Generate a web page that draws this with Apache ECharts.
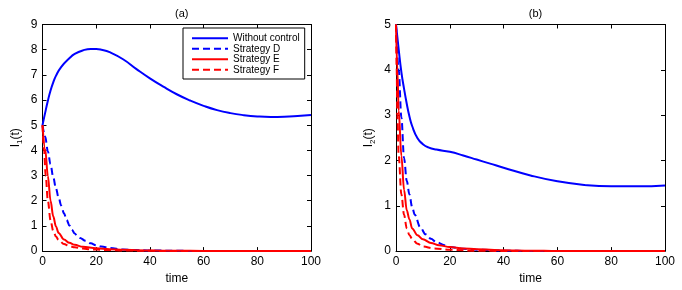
<!DOCTYPE html>
<html>
<head>
<meta charset="utf-8">
<script src="https://cdn.jsdelivr.net/npm/echarts@6/dist/echarts.min.js"></script>
<style>html,body{margin:0;padding:0;background:#fff;}#c{width:682px;height:290px;}</style>
</head>
<body>
<div id="c"></div>
<script>
// ---- Data (a): I1(t) ----
const tA_none = [0,1,2,3,4,5,7,10,12,15,18,20,22,25,30,35,40,45,50,55,60,65,70,75,80,85,90,95,100];
const yA_none = [5,5.5,5.97,6.38,6.7,6.96,7.32,7.66,7.83,7.97,8.03,8.03,8.0,7.9,7.62,7.23,6.86,6.53,6.23,5.98,5.77,5.6,5.48,5.4,5.35,5.33,5.34,5.37,5.41];
const tA_D = [0,1,2,3,4,5,6,7,8,9,10,11,12,13,14,16,18,20,22,25,30,35,40,50,60,70,100];
const yA_D = [5,4.55,3.96,3.45,2.93,2.5,2.12,1.8,1.5,1.24,1.02,0.84,0.7,0.6,0.52,0.41,0.31,0.23,0.18,0.12,0.065,0.04,0.025,0.01,0.005,0,0];
const tA_E = [0,1,2,3,4,5,6,8,10,12,15,20,25,30,40,50,60,70,100];
const yA_E = [5,4.05,2.98,2.0,1.38,0.98,0.72,0.46,0.33,0.25,0.17,0.11,0.075,0.05,0.025,0.012,0.006,0.003,0];
const tA_F = [0,0.6,1.2,2,3,4,5,6,8,10,12,15,18,20,25,30,40,50,60,100];
const yA_F = [5,3.96,2.98,2.0,1.22,0.8,0.58,0.44,0.28,0.2,0.15,0.1,0.07,0.06,0.04,0.025,0.01,0.004,0,0];
// ---- Data (b): I2(t) ----
const tB_none = [0,1,2,3,4,5,6,8,10,12,15,20,25,30,35,40,50,60,70,80,90,100];
const yB_none = [5,4.45,3.95,3.58,3.25,2.97,2.76,2.49,2.36,2.29,2.24,2.19,2.11,2.02,1.93,1.84,1.67,1.54,1.46,1.43,1.43,1.45];
const tB_D = [0,1,2,3,4,5,6,7,9,11,13,15,18,20,25,30,40,50,60,100];
const yB_D = [5,4.0,2.95,2.05,1.55,1.25,0.97,0.8,0.53,0.37,0.27,0.2,0.13,0.09,0.05,0.03,0.01,0.003,0,0];
const tB_E = [0,0.5,1,2,3,4,5,6,8,10,13,16,20,25,30,40,50,60,100];
const yB_E = [5,4.0,3.1,2.1,1.35,0.9,0.7,0.5,0.35,0.26,0.18,0.13,0.09,0.06,0.04,0.02,0.01,0,0];
const tB_F = [0,0.25,0.5,1,2,3,4,5,6,8,10,14,20,30,40,100];
const yB_F = [5,4.0,3.0,2.1,1.25,0.8,0.5,0.35,0.27,0.16,0.1,0.06,0.03,0.01,0,0];

const seriesNames = ['Without control','Strategy D','Strategy E','Strategy F'];

const FONT = "'Liberation Sans', Arial, sans-serif";
const BLUE = '#0000ff', RED = '#ff0000';
const styles = [
  {color: BLUE, type: 'solid'},
  {color: BLUE, type: [7,4]},
  {color: RED, type: 'solid'},
  {color: RED, type: [7,4]}
];

function pairs(t, y){ return t.map((v,i)=>[v, y[i]]); }

const dataA = [pairs(tA_none,yA_none), pairs(tA_D,yA_D), pairs(tA_E,yA_E), pairs(tA_F,yA_F)];
const dataB = [pairs(tB_none,yB_none), pairs(tB_D,yB_D), pairs(tB_E,yB_E), pairs(tB_F,yB_F)];

const grids = [
  {left: 42.5, top: 24.5, width: 268.5, height: 230},
  {left: 396, top: 24.5, width: 269, height: 230}
];

function xAx(gi, pos, labels){
  return {
    type: 'value', gridIndex: gi, position: pos, min: 0, max: 100, interval: 20,
    axisLine: {show: true, onZero: false, lineStyle: {color: '#000', width: 1}},
    axisTick: {show: true, inside: true, length: 4, lineStyle: {color: '#000'}},
    axisLabel: {show: labels, color: '#000', fontSize: 12, fontFamily: FONT, margin: 5},
    splitLine: {show: false},
    name: labels ? 'time' : '', nameLocation: 'middle', nameGap: 17,
    nameTextStyle: {color: '#000', fontSize: 12, fontFamily: FONT}
  };
}
function yAx(gi, pos, labels, max, sub){
  return {
    type: 'value', gridIndex: gi, position: pos, min: 0, max: max, interval: 1,
    axisLine: {show: true, onZero: false, lineStyle: {color: '#000', width: 1}},
    axisTick: {show: true, inside: true, length: 4, lineStyle: {color: '#000'}},
    axisLabel: {show: labels, color: '#000', fontSize: 12, fontFamily: FONT, margin: 5},
    splitLine: {show: false},
    name: labels ? '{a|I}{s|' + sub + '}{a|(t)}' : '', nameLocation: 'middle', nameGap: 19,
    nameTextStyle: {color: '#000', fontFamily: FONT,
      rich: {
        a: {fontSize: 12, fontFamily: FONT, color: '#000', lineHeight: 16},
        s: {fontSize: 8, fontFamily: FONT, color: '#000', lineHeight: 16, padding: [7,0,0,0], verticalAlign: 'bottom'}
      }}
  };
}

const series = [];
[dataA, dataB].forEach((dset, gi) => {
  dset.forEach((d, i) => {
    const s = {
      name: seriesNames[i], type: 'line', xAxisIndex: gi*2, yAxisIndex: gi*2,
      data: d, symbol: 'none', smooth: i === 0 ? 0.5 : 0.35,
      lineStyle: {color: styles[i].color, type: styles[i].type, width: 2},
      itemStyle: {color: styles[i].color},
      animation: false, z: 2 + i
    };
    if (i !== 0) s.smoothMonotone = 'x';
    series.push(s);
  });
});

const chart = echarts.init(document.getElementById('c'), null, {renderer: 'canvas'});
chart.setOption({
  backgroundColor: '#fff',
  animation: false,
  title: [
    {text: '(a)', left: 176.75, top: 3, textAlign: 'center', textStyle: {fontSize: 11, fontWeight: 'normal', color: '#000', fontFamily: FONT}},
    {text: '(b)', left: 530.5, top: 3, textAlign: 'center', textStyle: {fontSize: 11, fontWeight: 'normal', color: '#000', fontFamily: FONT}}
  ],
  grid: grids,
  legend: {
    data: seriesNames, orient: 'vertical', left: 183, top: 28,
    itemWidth: 36, itemHeight: 8, itemGap: 0,
    padding: [5, 5, 4, 8],
    borderColor: '#000', borderWidth: 1, backgroundColor: '#fff',
    itemStyle: {color: 'transparent', borderColor: 'transparent', borderWidth: 0, opacity: 0},
    textStyle: {fontSize: 10, fontFamily: FONT, color: '#000', lineHeight: 10.5},
    selectedMode: false
  },
  xAxis: [xAx(0,'bottom',true), xAx(0,'top',false), xAx(1,'bottom',true), xAx(1,'top',false)],
  yAxis: [yAx(0,'left',true,9,'1'), yAx(0,'right',false,9,'1'), yAx(1,'left',true,5,'2'), yAx(1,'right',false,5,'2')],
  series: series
});
</script>
</body>
</html>
